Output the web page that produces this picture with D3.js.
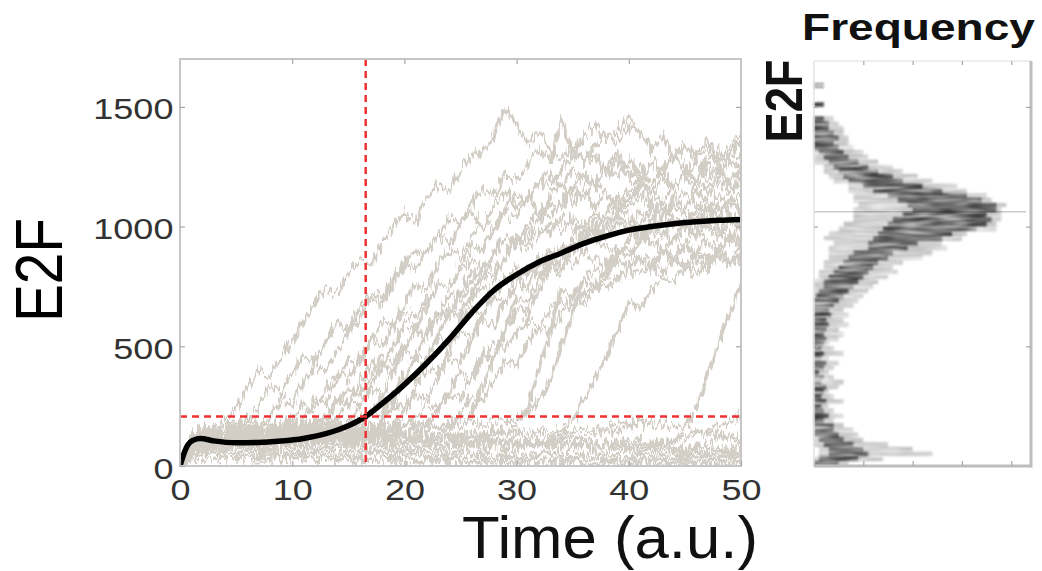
<!DOCTYPE html>
<html>
<head>
<meta charset="utf-8">
<script src="https://cdn.jsdelivr.net/npm/d3@7"></script>
<style>
  html, body { margin: 0; padding: 0; background: #fff; }
  svg { display: block; }
  text { font-family: "Liberation Sans", Arial, sans-serif; }
</style>
</head>
<body>
<svg id="chart" width="1042" height="571"></svg>
<script>
// ---- data ----
const times = [0,1,2,3,4,5,6,7,8,9,10,11,12,13,14,15,16,17,18,19,20,21,22,23,24,25,
  26,27,28,29,30,31,32,33,34,35,36,37,38,39,40,41,42,43,44,45,46,47,48,49,50];

// cells that stay low
const trajL1 = [0,45,55,50,60,52,48,55,62,50,45,52,58,50,44,48,55,60,52,46,42,50,56,48,40,45,52,58,50,44,40,46,52,48,42,38,44,50,46,40,36,42,48,44,38,35,40,46,42,38,34];
const trajL2 = [0,90,110,100,95,115,105,90,100,120,110,95,105,125,115,100,90,105,115,100,85,95,110,100,90,80,95,105,90,80,85,95,88,78,85,92,84,76,82,90,80,74,80,88,78,70,76,84,76,70,74];
const trajL3 = [0,120,140,150,135,145,160,150,140,155,165,150,140,130,145,155,140,125,135,145,130,120,110,125,115,105,100,112,100,90,95,85,92,80,88,78,84,74,80,70,76,66,72,64,70,60,66,58,64,56,60];
const trajL4 = [0,25,30,22,28,35,26,20,28,32,24,30,36,28,22,26,34,28,22,30,24,20,26,32,26,20,24,30,24,18,22,28,22,18,24,20,16,22,26,20,16,22,18,14,20,24,18,16,20,16,14];
const trajL5 = [0,70,85,95,80,90,100,85,75,88,96,82,90,100,88,78,85,95,84,76,82,92,80,72,80,90,84,76,86,96,90,100,110,104,115,125,120,135,150,142,160,175,168,182,170,160,150,135,120,110,100];
const trajL6 = [0,110,150,170,160,180,195,175,165,185,200,180,170,160,175,185,165,150,160,140,130,145,135,120,130,115,105,120,110,100,108,95,105,92,100,90,98,88,95,105,98,110,102,95,108,120,135,150,165,190,210];
const trajL7 = [0,80,95,90,100,92,85,95,105,98,88,95,102,94,86,92,100,92,84,90,98,90,82,88,96,88,80,86,94,86,78,84,92,86,80,88,96,90,84,92,100,94,88,96,100,150,250,380,510,640,760];
const trajL8 = [0,60,70,55,48,60,52,40,46,38,30,36,28,24,30,22,18,24,20,16,22,18,14,20,16,12,18,14,10,16,12,10,14,10,8,12,10,8,12,9,7,10,8,6,9,7,6,8,6,5,7];
const trajL9 = [0,100,120,110,125,118,105,115,128,120,110,100,112,122,110,98,108,118,104,92,100,110,98,88,96,106,94,86,94,104,96,110,102,118,130,145,160,150,168,180,172,190,178,165,172,160,148,138,130,124,120];
const trajL10 = [0,50,65,75,68,80,72,64,70,78,66,60,68,76,64,56,62,70,60,52,58,66,56,48,54,62,52,46,52,58,50,44,50,56,48,42,48,54,46,40,46,52,44,38,44,50,42,36,42,48,40];

// cells that switch on
const trajR1 = [0,110,140,160,190,240,320,400,380,460,520,600,680,740,720,800,860,840,930,990,1060,1020,1120,1180,1150,1240,1300,1320,1380,1500,1420,1350,1400,1320,1280,1340,1260,1300,1220,1280,1200,1260,1180,1230,1160,1220,1270,1200,1250,1180,1230];
const trajR2 = [0,100,120,110,140,160,190,250,330,300,390,460,430,520,600,570,660,720,700,780,850,820,900,960,930,1010,1060,1000,1090,1150,1080,1130,1050,1120,1180,1100,1160,1080,1140,1060,1120,1180,1100,1050,1130,1070,1150,1090,1040,1120,1060];
const trajR3 = [0,90,110,130,120,150,140,170,210,280,260,350,420,400,480,560,620,700,680,760,840,900,880,960,1040,1010,1100,1160,1130,1220,1190,1260,1320,1280,1440,1300,1380,1420,1360,1400,1460,1390,1330,1370,1300,1340,1280,1320,1260,1300,1350];
const trajR4 = [0,80,100,95,110,105,120,115,130,160,200,260,240,320,390,360,450,520,500,580,640,620,700,760,740,810,860,830,900,950,920,980,1020,970,1040,1000,960,1030,990,1050,1000,960,1020,980,940,1010,970,1030,990,950,1010];
const trajR5 = [0,120,130,145,125,140,155,135,150,170,160,200,280,260,360,440,420,520,600,580,680,760,740,840,900,880,960,1020,1000,1080,1140,1100,1180,1220,1160,1240,1200,1170,1250,1210,1280,1220,1180,1250,1300,1240,1190,1260,1220,1280,1240];
const trajR6 = [0,70,90,85,100,95,110,100,115,105,120,150,200,180,260,330,300,380,450,430,510,560,540,610,660,640,700,750,720,790,830,800,860,820,880,840,900,860,820,880,910,860,820,890,850,920,870,830,900,860,920];
const trajR7 = [0,100,115,105,125,118,130,122,140,135,150,145,170,210,280,260,350,430,410,500,590,570,670,760,740,840,920,900,990,1060,1040,1120,1190,1160,1240,1300,1270,1340,1390,1350,1410,1400,1320,1370,1290,1340,1300,1360,1280,1330,1380];
const trajR8 = [0,90,105,120,110,125,115,130,120,140,130,150,140,165,200,270,250,340,420,400,490,570,550,640,710,690,770,830,810,880,930,910,970,1010,980,1040,1000,1060,1020,1080,1040,1000,1070,1030,1090,1050,1010,1070,1030,1090,1050];
const trajR9 = [0,110,125,140,130,145,138,150,142,160,150,165,155,170,162,190,240,320,300,400,480,460,560,650,630,730,810,790,880,950,930,1010,1070,1040,1110,1160,1120,1180,1140,1090,1160,1200,1140,1100,1170,1210,1150,1120,1190,1150,1200];
const trajR10 = [0,60,80,75,90,85,95,88,100,92,105,98,110,102,115,108,160,230,210,300,380,360,450,530,510,600,660,640,720,780,760,820,870,850,910,940,900,960,920,880,950,990,930,900,960,920,980,940,900,970,930];
const trajR11 = [0,130,150,140,160,150,170,158,175,165,180,170,185,175,190,180,195,220,290,270,370,460,440,550,640,620,720,800,780,880,960,940,1030,1100,1080,1160,1220,1180,1250,1300,1240,1200,1270,1230,1290,1250,1200,1280,1320,1260,1300];
const trajR12 = [0,85,100,92,108,100,115,106,120,112,125,118,130,122,138,130,145,138,190,260,240,330,410,390,480,560,540,630,700,680,760,820,800,870,910,890,950,990,960,1020,980,940,1010,970,1040,1000,960,1020,980,1050,1000];
const trajR13 = [0,75,95,88,102,96,110,100,115,106,120,112,125,118,130,122,136,128,140,170,230,300,280,370,450,430,530,610,590,690,770,750,840,900,880,960,1020,990,1060,1100,1070,1130,1080,1040,1110,1150,1090,1060,1130,1090,1150];
const trajR14 = [0,95,110,102,118,108,122,114,128,118,132,124,138,128,142,134,146,138,150,142,160,200,260,240,320,390,370,450,510,490,560,610,590,650,690,670,720,760,740,790,820,800,840,810,860,830,800,850,880,840,870];
const trajR15 = [0,105,125,118,135,126,140,132,146,138,152,144,158,148,162,154,168,158,172,162,176,168,182,230,300,280,380,470,450,560,650,630,740,830,810,910,990,970,1060,1120,1100,1170,1140,1200,1160,1230,1190,1150,1220,1180,1240];
const trajR16 = [0,80,95,88,100,94,106,98,110,102,115,106,118,110,122,114,126,118,130,122,134,126,138,130,160,220,290,270,360,440,420,510,580,560,640,700,680,740,790,770,830,870,850,900,880,920,890,940,910,950,920];
const trajR17 = [0,100,118,110,126,118,132,124,138,130,144,136,150,140,154,146,158,150,162,154,166,158,170,162,174,166,210,330,460,580,700,680,780,850,830,900,960,940,1000,1040,1010,1060,1020,1080,1040,1000,1070,1030,1090,1050,1010];
const trajR18 = [0,70,88,80,95,88,100,92,104,96,108,100,112,104,116,108,120,112,124,116,128,120,132,124,136,128,140,132,144,136,170,240,410,560,740,700,780,820,800,860,830,880,850,900,870,830,890,860,910,870,840];
const trajR19 = [0,115,130,122,138,130,144,136,150,142,156,148,160,152,164,156,168,160,172,164,176,168,180,172,184,176,188,180,192,184,196,220,280,360,500,640,780,750,840,900,870,940,980,950,1010,980,1040,1000,960,1020,990];
const trajR20 = [0,65,80,74,88,82,94,86,98,90,102,94,106,98,110,102,114,106,118,110,122,114,126,118,130,122,134,126,138,130,142,134,146,138,150,190,280,360,460,560,690,660,740,790,770,820,850,830,870,850,880];

// population mean
const meanTime = [0,0.3,0.7,1.2,1.8,3,5,7,9,11,13,15,16.5,18,20,22,24,26,28,30,32,34,36,38,40,42,44,46,48,50];
const meanE2F = [0,45,88,108,115,105,97,98,104,115,135,168,205,260,340,430,530,640,735,800,852,890,930,960,985,1000,1012,1020,1026,1030];

const thresholdE2F = 207;
const thresholdTime = 16.55;

// histogram of E2F (bins of 20), spread of frequency across runs
const histBinStart = [0,20,40,60,80,100,120,140,160,180,200,220,240,260,280,300,320,340,360,380,
  400,420,440,460,480,500,520,540,560,580,600,620,640,660,680,700,720,740,760,780,
  800,820,840,860,880,900,920,940,960,980,1000,1020,1040,1060,1080,1100,1120,1140,1160,1180,
  1200,1220,1240,1260,1280,1300,1320,1340,1360,1380,1400,1420,1440,1460,1480,1500,1520,1540,1560,1580];
const histFringeLo = [0,0,1,1,0,0,0,0,0,0, 0,0,0,0,0,0,0,0,0,0, 0,0,0,0,0,0,0,0,0,0, 0,0,0,0,0,0,0,0,0,1,
  1,2,2,3,3,3,4,2,3,5, 6,8,8,8,9,8,8,7,7,4, 3,2,2,0,0,0,0,0,0,0, 0,0,0,0,0,0,0,0,0,0];
const histCoreLo = [0,1,3,3,2,1,0,0,0,0, 0,0,0,0,0,0,0,0,0,0, 0,0,0,0,0,0,0,0,0,0, 0,0,0,0,0,0.5,1,2,2,3,
  4,5,6,7,8,11,11,12,13,14, 15,16,18,20,19,17,15,12,10,7, 6,5,4,3,2,1,0,0,0,0, 0,0,0,0,0,0,0,0,0,0];
const histCoreHi = [5,9,11,10,8,6,5,4,4,2, 3,2,1.5,2.5,1.5,2,2.5,1.5,2,1, 2,2.5,1.5,2,1.5,2,2.5,2,2.5,3, 2.5,3.5,3,4,5,6,7,8,9,10,
  11,12,13,15,16,19,21,26,28,33, 35,36,35,37,37,34,31,26,22,18, 16,13,11,9,7,6,5,4,5,4, 3,3,2,0,0,2,0,0,0,2];
const histFringeHi = [7,14,24,20,15,10,9,8,6,4, 6,4,3,6,4,3,5,6,4,3, 4,5,3,6,4,3,5,6,5,7, 6,7,6,8,9,10,11,12,13,15,
  17,16,18,22,24,27,26,30,31,37, 37,38,38,38,39,36,35,31,29,24, 21,18,16,13,11,10,8,7,7,6, 6,5,4,0,0,2,0,0,0,2];
const histStreak = { e2f: 1062, freq: 43 };

const trajectories = [trajL1, trajL2, trajL3, trajL4, trajL5, trajL6, trajL7, trajL8, trajL9, trajL10,
  trajR1, trajR2, trajR3, trajR4, trajR5, trajR6, trajR7, trajR8, trajR9, trajR10,
  trajR11, trajR12, trajR13, trajR14, trajR15, trajR16, trajR17, trajR18, trajR19, trajR20];

// ---- layout ----
const svg = d3.select("#chart");
const main = { left: 180, right: 741, top: 59, bottom: 466 };
const hist = { left: 814, right: 1031, top: 61, bottom: 466 };

const x = d3.scaleLinear().domain([0, 50]).range([main.left, main.right]);
const y = d3.scaleLinear().domain([0, 1700]).range([main.bottom, main.top]);
const hx = d3.scaleLinear().domain([0, 44]).range([hist.left, hist.right]);

const defs = svg.append("defs");
defs.append("clipPath").attr("id", "clipMain")
  .append("rect").attr("x", main.left).attr("y", main.top)
  .attr("width", main.right - main.left).attr("height", main.bottom - main.top);

// rough, noisy look of the stochastic traces (purely a rendering texture)
const jitter = defs.append("filter").attr("id", "jitter")
  .attr("filterUnits", "userSpaceOnUse")
  .attr("x", 160).attr("y", 40).attr("width", 600).attr("height", 450);
jitter.append("feTurbulence").attr("type", "fractalNoise")
  .attr("baseFrequency", "0.35 0.06").attr("numOctaves", 2).attr("seed", 4).attr("result", "n");
jitter.append("feColorMatrix").attr("in", "n").attr("type", "matrix")
  .attr("values", "0 0 0 0 0.5  0 1 0 0 0  0 0 1 0 0  0 0 0 0 1").attr("result", "nm");
jitter.append("feDisplacementMap").attr("in", "SourceGraphic").attr("in2", "nm")
  .attr("scale", 24).attr("xChannelSelector", "R").attr("yChannelSelector", "G");

// streaky texture for the histogram
const streaks = defs.append("filter").attr("id", "streaks")
  .attr("filterUnits", "userSpaceOnUse")
  .attr("x", 800).attr("y", 50).attr("width", 240).attr("height", 430);
streaks.append("feTurbulence").attr("type", "fractalNoise")
  .attr("baseFrequency", "0.03 0.45").attr("numOctaves", 2).attr("seed", 9).attr("result", "n");
streaks.append("feColorMatrix").attr("in", "n").attr("type", "matrix")
  .attr("values", "0 0 0 0 0  0 0 0 0 0  0 0 0 0 0  1.7 0 0 0 -0.15").attr("result", "m");
streaks.append("feComposite").attr("in", "SourceGraphic").attr("in2", "m")
  .attr("operator", "in").attr("result", "s");
streaks.append("feGaussianBlur").attr("in", "s").attr("stdDeviation", 0.9);

// ---- main panel ----
const $plot = svg.append("g").attr("clip-path", "url(#clipMain)");

const trajLine = d3.line().x((d, i) => x(times[i])).y(d => y(d));
$plot.append("g")
  .attr("filter", "url(#jitter)")
  .selectAll("path")
  .data(trajectories)
  .join("path")
  .attr("d", trajLine)
  .attr("fill", "none")
  .attr("stroke", "#d2cec6")
  .attr("stroke-width", 3.2)
  .attr("stroke-linejoin", "round");

const meanLine = d3.line()
  .x((d, i) => x(meanTime[i]))
  .y(d => y(d))
  .curve(d3.curveMonotoneX);
$plot.append("path")
  .attr("d", meanLine(meanE2F))
  .attr("fill", "none")
  .attr("stroke", "#000")
  .attr("stroke-width", 5.5)
  .attr("stroke-linecap", "round");

// threshold lines
$plot.append("line")
  .attr("x1", x(0)).attr("x2", x(50))
  .attr("y1", y(thresholdE2F)).attr("y2", y(thresholdE2F))
  .attr("stroke", "#f23232").attr("stroke-width", 2.5)
  .attr("stroke-dasharray", "7,5");
$plot.append("line")
  .attr("x1", x(thresholdTime)).attr("x2", x(thresholdTime))
  .attr("y1", main.top).attr("y2", main.bottom)
  .attr("stroke", "#f23232").attr("stroke-width", 2.5)
  .attr("stroke-dasharray", "7,5");

// frame + inward ticks
const frameColor = "#c6c6c6";
svg.append("rect")
  .attr("x", main.left).attr("y", main.top)
  .attr("width", main.right - main.left).attr("height", main.bottom - main.top)
  .attr("fill", "none").attr("stroke", frameColor).attr("stroke-width", 2);

const styleAxis = (g) => {
  g.select(".domain").remove();
  g.selectAll(".tick line").attr("stroke", "#a8a8a8").attr("stroke-width", 1.2);
  g.selectAll(".tick text")
    .attr("fill", "#333")
    .style("font-size", "30px");
};

svg.append("g")
  .attr("transform", `translate(${main.left},0)`)
  .call(d3.axisLeft(y).tickValues([0, 500, 1000, 1500]).tickFormat(d3.format("d"))
    .tickSizeInner(-5).tickSizeOuter(0).tickPadding(5.5))
  .call(styleAxis)
  .call(g => g.selectAll(".tick text").attr("dy", "0.40em").attr("transform", "scale(1.2,1)"));

svg.append("g")
  .attr("transform", `translate(0,${main.bottom})`)
  .call(d3.axisBottom(x).tickValues([0, 10, 20, 30, 40, 50]).tickFormat(d3.format("d"))
    .tickSizeInner(-5).tickSizeOuter(0).tickPadding(0))
  .call(styleAxis)
  .call(g => g.selectAll(".tick text").attr("y", 34).attr("dy", 0).attr("transform", "scale(1.2,1)"));

svg.append("g")
  .attr("transform", `translate(0,${main.top})`)
  .call(d3.axisTop(x).tickValues([10, 20, 30, 40]).tickSizeInner(-5).tickSizeOuter(0).tickFormat(""))
  .call(styleAxis);
svg.append("g")
  .attr("transform", `translate(${main.right},0)`)
  .call(d3.axisRight(y).tickValues([500, 1000, 1500]).tickSizeInner(-5).tickSizeOuter(0).tickFormat(""))
  .call(styleAxis);

// axis titles
svg.append("text")
  .attr("transform", "translate(62,270) rotate(-90)")
  .attr("text-anchor", "middle")
  .attr("fill", "#000")
  .style("font-size", "67px")
  .attr("textLength", 104)
  .attr("lengthAdjust", "spacingAndGlyphs")
  .text("E2F");

svg.append("text")
  .attr("x", 462).attr("y", 558)
  .attr("fill", "#111")
  .style("font-size", "60px")
  .attr("textLength", 296)
  .attr("lengthAdjust", "spacingAndGlyphs")
  .text("Time (a.u.)");

// ---- histogram panel ----
const $hist = svg.append("g").attr("filter", "url(#streaks)");
const binH = (d) => y(d) - y(d + 20);

$hist.append("g")
  .selectAll("rect")
  .data(histBinStart)
  .join("rect")
  .attr("x", (d, i) => hx(histFringeLo[i]))
  .attr("y", d => y(d + 20))
  .attr("width", (d, i) => Math.max(0, hx(histFringeHi[i]) - hx(histFringeLo[i])))
  .attr("height", binH)
  .attr("fill", "#000")
  .attr("fill-opacity", 0.25);

$hist.append("g")
  .selectAll("rect")
  .data(histBinStart)
  .join("rect")
  .attr("x", (d, i) => hx(histCoreLo[i]))
  .attr("y", d => y(d + 20))
  .attr("width", (d, i) => Math.max(0, hx(histCoreHi[i]) - hx(histCoreLo[i])))
  .attr("height", binH)
  .attr("fill", "#000")
  .attr("fill-opacity", 0.7);

svg.append("line")
  .attr("x1", hx(0)).attr("x2", hx(histStreak.freq))
  .attr("y1", y(histStreak.e2f)).attr("y2", y(histStreak.e2f))
  .attr("stroke", "#000").attr("stroke-opacity", 0.2).attr("stroke-width", 1.5);

// histogram frame
svg.append("line").attr("x1", hist.left).attr("x2", hist.right).attr("y1", hist.top).attr("y2", hist.top)
  .attr("stroke", "#dcdcdc").attr("stroke-width", 1.2);
svg.append("line").attr("x1", hist.left).attr("x2", hist.left).attr("y1", hist.top).attr("y2", hist.bottom)
  .attr("stroke", "#dcdcdc").attr("stroke-width", 1.2);
svg.append("line").attr("x1", hist.right).attr("x2", hist.right).attr("y1", hist.top).attr("y2", hist.bottom + 1.5)
  .attr("stroke", "#bdbdbd").attr("stroke-width", 3);
svg.append("line").attr("x1", hist.left).attr("x2", hist.right).attr("y1", hist.bottom).attr("y2", hist.bottom)
  .attr("stroke", "#bdbdbd").attr("stroke-width", 3);

svg.append("g")
  .attr("transform", `translate(0,${hist.top})`)
  .call(d3.axisTop(hx).tickValues([10, 20, 30, 40]).tickSizeInner(-4).tickSizeOuter(0).tickFormat(""))
  .call(styleAxis);
svg.append("g")
  .attr("transform", `translate(0,${hist.bottom})`)
  .call(d3.axisBottom(hx).tickValues([10, 20, 30, 40]).tickSizeInner(-5).tickSizeOuter(0).tickFormat(""))
  .call(styleAxis);
svg.append("g")
  .attr("transform", `translate(${hist.left},0)`)
  .call(d3.axisLeft(y).tickValues([500, 1000, 1500]).tickSizeInner(-4).tickSizeOuter(0).tickFormat(""))
  .call(styleAxis);
svg.append("g")
  .attr("transform", `translate(${hist.right},0)`)
  .call(d3.axisRight(y).tickValues([500, 1000, 1500]).tickSizeInner(-5).tickSizeOuter(0).tickFormat(""))
  .call(styleAxis);

svg.append("text")
  .attr("x", 802).attr("y", 40)
  .attr("fill", "#111")
  .style("font-size", "37px")
  .style("font-weight", "bold")
  .attr("textLength", 233)
  .attr("lengthAdjust", "spacingAndGlyphs")
  .text("Frequency");

svg.append("text")
  .attr("transform", "translate(802,101) rotate(-90)")
  .attr("text-anchor", "middle")
  .attr("fill", "#111")
  .style("font-size", "51px")
  .style("font-weight", "bold")
  .attr("textLength", 83)
  .attr("lengthAdjust", "spacingAndGlyphs")
  .text("E2F");
</script>
</body>
</html>
